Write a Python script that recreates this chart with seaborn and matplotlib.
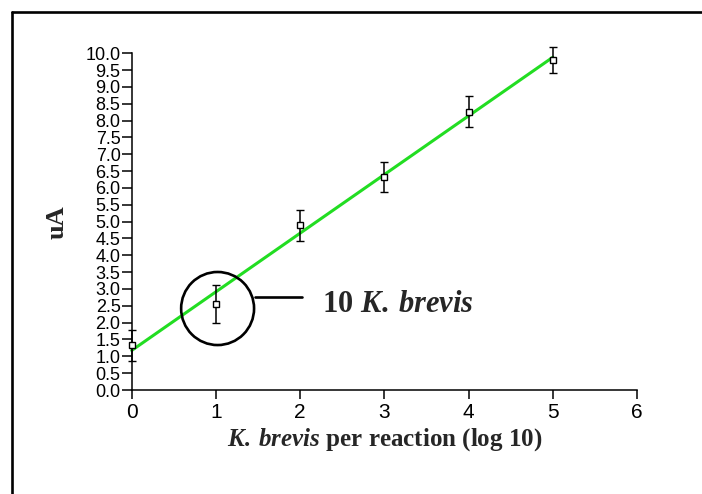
import matplotlib
matplotlib.use("Agg")
import matplotlib.pyplot as plt
from matplotlib.patches import Ellipse
from matplotlib.lines import Line2D
import numpy as np
import pandas as pd
import seaborn as sns

# values
log_cells = [0, 1, 2, 3, 4, 5]
current_ua = [1.33, 2.55, 4.89, 6.33, 8.27, 9.80]
current_sd = [0.46, 0.56, 0.46, 0.45, 0.45, 0.38]
x_ticks = [0, 1, 2, 3, 4, 5, 6]
y_ticks = [i * 0.5 for i in range(21)]

LINE_GREEN = "#22dd22"

sns.set_style("ticks")
plt.rcParams["font.family"] = ["Liberation Sans", "DejaVu Sans"]
plt.rcParams["mathtext.fontset"] = "custom"
plt.rcParams["mathtext.it"] = "Liberation Serif:italic:bold"
plt.rcParams["mathtext.rm"] = "Liberation Serif:bold"
plt.rcParams["mathtext.bf"] = "Liberation Serif:bold"

df = pd.DataFrame({"x": log_cells, "y": current_ua, "sd": current_sd})

fig = plt.figure(figsize=(7.02, 4.94), dpi=100)
ax = fig.add_axes([131.7 / 702, 104 / 494, 505.3 / 702, 336.7 / 494])

# fitted line
sns.regplot(data=df, x="x", y="y", scatter=False, ci=None, ax=ax,
            line_kws={"color": LINE_GREEN, "lw": 2.2, "zorder": 2, "clip_on": False})

# points with error bars
ax.errorbar(df["x"], df["y"], yerr=df["sd"], fmt="s", ms=5, mfc="white",
            mec="black", mew=1.0, ecolor="black", elinewidth=1.1,
            capsize=2.6, capthick=1.1, zorder=3, clip_on=False)

ax.set_xlim(0, 6)
ax.set_ylim(0, 10)
ax.set_xticks(x_ticks)
ax.set_xticklabels([str(t) for t in x_ticks], fontsize=15)
ax.set_yticks(y_ticks)
ax.set_yticklabels([f"{t:.1f}" for t in y_ticks], fontsize=13)
ax.tick_params(axis="y", length=7, width=1.1, pad=1, colors="black")
ax.tick_params(axis="x", length=6.5, width=1.1, pad=3, colors="black")
for side in ("top", "right"):
    ax.spines[side].set_visible(False)
for side in ("left", "bottom"):
    ax.spines[side].set_linewidth(1.1)
    ax.spines[side].set_color("black")

ax.set_xlabel(r"$\mathit{K.\:brevis}$ per reaction (log 10)",
              fontfamily="Liberation Serif", fontweight="bold", fontsize=18,
              labelpad=3)
ax.set_ylabel("uA", fontfamily="Liberation Serif", fontweight="bold",
              fontsize=19, labelpad=12)

# highlight of the 10 cell point
ax.add_patch(Ellipse((1.02, 2.42), 0.866, 2.17, fill=False, ec="black",
                     lw=1.9, zorder=4, clip_on=False))
ax.plot([1.464, 2.02], [2.77, 2.77], color="black", lw=1.9, zorder=4)
ax.text(2.26, 2.33, r"10 $\mathit{K.\:brevis}$", fontfamily="Liberation Serif",
        fontweight="bold", fontsize=22, va="baseline", ha="left")

# frame edges of the original figure
fig.add_artist(Line2D([11.7 / 702, 11.7 / 702], [0, 1 - 12 / 494],
                      transform=fig.transFigure, color="black", lw=1.9))
fig.add_artist(Line2D([11.7 / 702, 1], [1 - 12 / 494, 1 - 12 / 494],
                      transform=fig.transFigure, color="black", lw=1.9))

fig.savefig("out.png", dpi=100)
